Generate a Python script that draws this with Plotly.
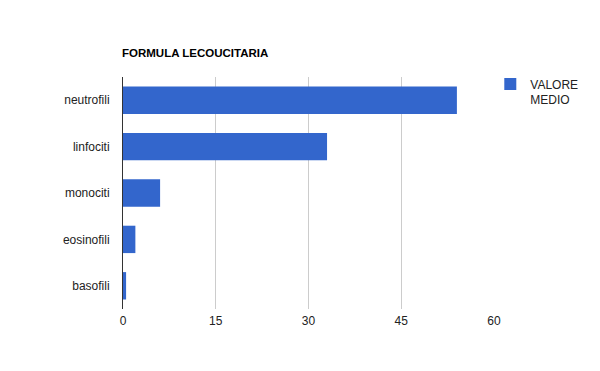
import plotly.graph_objects as go

categories = ["neutrofili", "linfociti", "monociti", "eosinofili", "basofili"]
valore_medio = [54, 33, 6, 2, 0.5]
x_ticks = [0, 15, 30, 45, 60]

# page body adds ~8px offset; compensate in margins
fig = go.Figure()
fig.add_trace(go.Bar(
    y=categories,
    x=valore_medio,
    orientation="h",
    name="VALORE<br>MEDIO",
    marker=dict(color="#3366cc", line=dict(width=0)),
))

fig.update_layout(
    width=600, height=371,
    margin=dict(l=115, r=114, t=69, b=70),
    paper_bgcolor="white", plot_bgcolor="white",
    font=dict(family="Liberation Sans, Arial, sans-serif", size=12, color="#222222"),
    title=dict(text="<b>FORMULA LECOUCITARIA</b>", x=114/600, xanchor="left",
               y=1 - 45/371, yanchor="middle", font=dict(size=11.5, color="#000000")),
    bargap=0.41,
    showlegend=True,
    legend=dict(x=0.99, xanchor="left", y=1.031, yanchor="top", valign="top",
                font=dict(size=12, color="#222222"), bgcolor="rgba(0,0,0,0)",
                itemwidth=30),
    xaxis=dict(range=[0, 60], tickvals=x_ticks, showgrid=True, gridcolor="#cccccc",
               gridwidth=1, zeroline=False, showline=False, ticks="",
               ticklabelstandoff=3, fixedrange=True),
    yaxis=dict(autorange="reversed", showline=True, linecolor="#333333", linewidth=1,
               showgrid=False, ticks="", ticklabelstandoff=10, fixedrange=True),
)

fig.write_html("out.html")
